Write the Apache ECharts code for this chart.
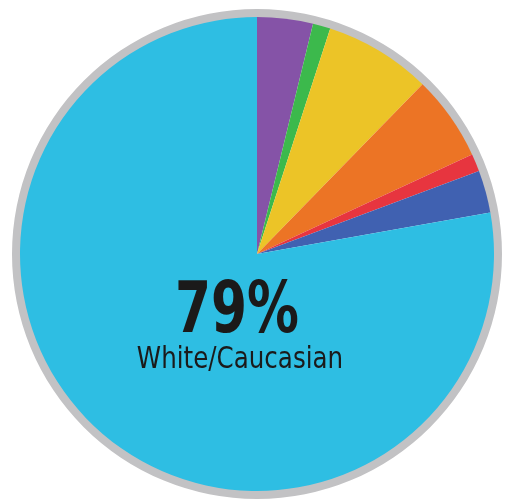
<!DOCTYPE html>
<html>
<head>
<meta charset="utf-8">
<style>html,body{margin:0;padding:0;background:#fff;}#chart{width:506px;height:504px;}</style>
<script src="https://cdn.jsdelivr.net/npm/echarts@6/dist/echarts.min.js"></script>
</head>
<body>
<div id="chart"></div>
<script>
var categories = ['Other A', 'Other B', 'Other C', 'Other D', 'Other E', 'Other F', 'White/Caucasian'];
var values = [3.8, 1.2, 7.3, 5.8, 1.2, 2.9, 77.8];
var colors = ['#8553a7', '#3cb94c', '#ecc427', '#ec7425', '#e7353f', '#4061b1', '#2ebee3'];
var mainLabel = '79%';
var mainName = 'White/Caucasian';

var chart = echarts.init(document.getElementById('chart'));
chart.setOption({
  animation: false,
  series: [
    {
      type: 'pie',
      silent: true,
      center: [257, 254],
      radius: [236, 245],
      label: { show: false },
      labelLine: { show: false },
      itemStyle: { color: '#c2c2c4' },
      data: [{ value: 1, name: 'ring' }]
    },
    {
      type: 'pie',
      center: [257, 254],
      radius: [0, 237],
      startAngle: 90,
      clockwise: true,
      label: { show: false },
      labelLine: { show: false },
      data: categories.map(function (c, i) {
        return { name: c, value: values[i], itemStyle: { color: colors[i] } };
      })
    }
  ],
  graphic: [
    {
      type: 'text',
      z: 100,
      x: 237, y: 313,
      scaleX: 0.8,
      style: {
        text: mainLabel, x: 0, y: 0, align: 'center', verticalAlign: 'middle',
        fontFamily: '"Liberation Sans Narrow", "DejaVu Sans Condensed", sans-serif',
        fontWeight: 'bold', fontSize: 72, fill: '#1b1a1a'
      }
    },
    {
      type: 'text',
      z: 100,
      x: 240, y: 360,
      scaleX: 0.91,
      style: {
        text: mainName, x: 0, y: 0, align: 'center', verticalAlign: 'middle',
        fontFamily: '"Liberation Sans Narrow", "DejaVu Sans Condensed", sans-serif',
        fontSize: 30, fill: '#1b1a1a'
      }
    }
  ]
});
</script>
</body>
</html>
